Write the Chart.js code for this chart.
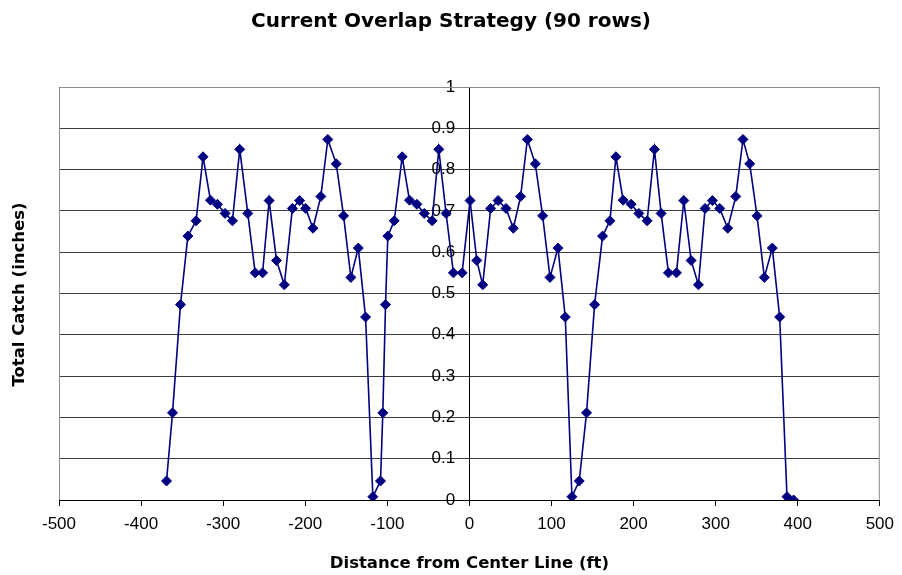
<!DOCTYPE html>
<html>
<head>
<meta charset="utf-8">
<title>Current Overlap Strategy</title>
<script src="https://cdn.jsdelivr.net/npm/chart.js@4"></script>
<style>
  html, body { margin: 0; padding: 0; background: #fff; }
  #grafico { display: block; }
</style>
</head>
<body>
<canvas id="grafico" width="902" height="575"></canvas>
<script>
// DATOS --------------------------------------------------
const distancia = [
  -369, -361.7, -352, -343, -333, -324.5, -315.5, -307, -297.7, -288.7,
  -279.8, -270, -261, -252, -244, -235, -225.5, -215.7, -206.8, -199.5,
  -190.6, -181, -172.5, -162.2, -153.3, -144.4, -135.4, -126.5, -117.6,
  -108.3, -105.5, -102.2, -99.4, -91.6, -81.9, -73, -64, -55, -45.4,
  -37.3, -28.4, -19.5, -8.9, 0.8, 9, 16.2, 25.9, 34.9, 44.6,
  53.5, 62.4, 70.6, 80.3, 89.2, 98.2, 107.9, 116.8, 124.9,
  133.8, 142.7, 152.5, 162.2, 171.2, 178.5, 187.3, 197, 206.4, 216.5,
  225.4, 233.6, 242.5, 252.2, 261.2, 270.1, 279, 287.1, 296, 305,
  314.7, 324.5, 333.3, 341.5, 350.4, 359.3, 369, 378, 386.9, 395
];
const totalCatch = [
  0.046, 0.211, 0.473, 0.639, 0.676, 0.831, 0.726, 0.716, 0.694, 0.676,
  0.849, 0.694, 0.550, 0.550, 0.725, 0.580, 0.521, 0.706, 0.725, 0.706,
  0.658, 0.735, 0.873, 0.814, 0.688, 0.539, 0.610, 0.443, 0.008,
  0.046, 0.211, 0.473, 0.639, 0.676, 0.831, 0.726, 0.716, 0.694, 0.676,
  0.849, 0.694, 0.550, 0.550, 0.725, 0.580, 0.521, 0.706, 0.725, 0.706,
  0.658, 0.735, 0.873, 0.814, 0.688, 0.539, 0.610, 0.443, 0.008,
  0.046, 0.211, 0.473, 0.639, 0.676, 0.831, 0.726, 0.716, 0.694, 0.676,
  0.849, 0.694, 0.550, 0.550, 0.725, 0.580, 0.521, 0.706, 0.725, 0.706,
  0.658, 0.735, 0.873, 0.814, 0.688, 0.539, 0.610, 0.443, 0.008, 0.0
];
const xTicks = [-500, -400, -300, -200, -100, 0, 100, 200, 300, 400, 500];
const yTicks = [0, 0.1, 0.2, 0.3, 0.4, 0.5, 0.6, 0.7, 0.8, 0.9, 1];
const titulo = "Current Overlap Strategy (90 rows)";
const tituloX = "Distance from Center Line (ft)";
const tituloY = "Total Catch (inches)";
// DATOS END

const FUENTE = "'Liberation Sans', Arial, Helvetica, sans-serif";
const FUENTE_NEGRITA = "'DejaVu Sans', 'Liberation Sans', Arial, sans-serif";

// marco gris del area, titulo del grafico (centrado en el lienzo) y titulo vertical
const marcoPlugin = {
  id: "marco",
  beforeDatasetsDraw(chart) {
    const a = chart.chartArea;
    const ctx = chart.ctx;
    ctx.save();
    ctx.strokeStyle = "#8c8c8c";
    ctx.lineWidth = 1;
    ctx.beginPath();
    ctx.moveTo(a.left + 0.5, a.bottom);
    ctx.lineTo(a.left + 0.5, a.top + 0.5);
    ctx.lineTo(a.right - 0.5, a.top + 0.5);
    ctx.lineTo(a.right - 0.5, a.bottom);
    ctx.stroke();
    ctx.restore();
  },
  afterDraw(chart) {
    const a = chart.chartArea;
    const ctx = chart.ctx;
    ctx.save();
    ctx.fillStyle = "#000";
    ctx.textAlign = "center";
    ctx.textBaseline = "middle";
    ctx.font = "bold 20px " + FUENTE_NEGRITA;
    ctx.fillText(titulo, chart.width / 2, 22);
    ctx.translate(20, (a.top + a.bottom) / 2 + 1);
    ctx.rotate(-Math.PI / 2);
    ctx.font = "bold 16.5px " + FUENTE_NEGRITA;
    ctx.fillText(tituloY, 0, 0);
    ctx.restore();
  },
};

// GRAFICO LINEAL -----------------------------------------
function graficoLineal() {
  const puntos = distancia.map((d, i) => ({ x: d, y: totalCatch[i] }));
  const data = {
    datasets: [
      {
        label: tituloY,
        data: puntos,
        showLine: true,
        borderColor: "#000080",
        backgroundColor: "#000080",
        borderWidth: 1.6,
        pointStyle: "rectRot",
        pointRadius: 5,
        pointBorderWidth: 1,
        pointBackgroundColor: "#000080",
        pointBorderColor: "#000080",
        tension: 0,
      },
    ],
  };
  const config = {
    type: "scatter",
    data: data,
    plugins: [marcoPlugin],
    options: {
      responsive: false,
      animation: false,
      layout: { padding: { left: 59, right: 21, top: 87, bottom: 0 } },
      plugins: {
        legend: { display: false },
        tooltip: { enabled: false },
        title: { display: false },
      },
      scales: {
        x: {
          type: "linear",
          position: "bottom",
          min: xTicks[0],
          max: xTicks[xTicks.length - 1],
          afterBuildTicks: (scale) => {
            scale.ticks = xTicks.map((v) => ({ value: v }));
          },
          afterFit: (scale) => {
            scale.height = 75;
          },
          grid: {
            drawOnChartArea: false,
            drawTicks: true,
            tickLength: 6,
            color: "#000",
          },
          border: { color: "#000", width: 1 },
          ticks: {
            color: "#000",
            padding: 8,
            maxRotation: 0,
            font: { family: FUENTE, size: 17 },
          },
          title: {
            display: true,
            text: tituloX,
            color: "#000",
            font: { family: FUENTE_NEGRITA, size: 16.5, weight: "bold", lineHeight: 1.2 },
            padding: { top: 0, bottom: 1 },
          },
        },
        y: {
          type: "linear",
          position: { x: 0 },
          min: yTicks[0],
          max: yTicks[yTicks.length - 1],
          afterBuildTicks: (scale) => {
            scale.ticks = yTicks.map((v) => ({ value: v }));
          },
          grid: {
            color: "#3c3c3c",
            lineWidth: 1,
            drawTicks: true,
            tickLength: 5,
          },
          border: { color: "#000", width: 1 },
          ticks: {
            color: "#000",
            font: { family: FUENTE, size: 17 },
            // la etiqueta queda pegada al eje; los espacios la separan
            callback: (v) => String(+v.toFixed(1)) + "   ",
          },
        },
      },
    },
  };
  new Chart(document.getElementById("grafico"), config);
}
// GRAFICO LINEAL END -------------------------------------

graficoLineal();
</script>
</body>
</html>
